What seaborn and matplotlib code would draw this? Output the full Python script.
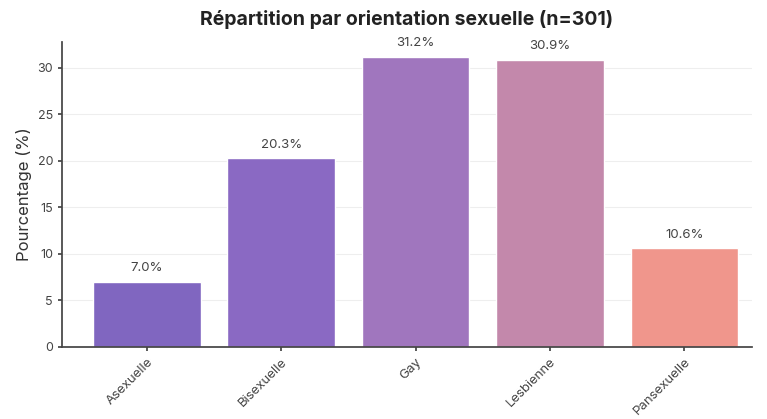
import matplotlib
matplotlib.use("Agg")
import matplotlib.pyplot as plt
import seaborn as sns
import pandas as pd

# Data
categories = ["Asexuelle", "Bisexuelle", "Gay", "Lesbienne", "Pansexuelle"]
percentages = [7.0, 20.3, 31.2, 30.9, 10.6]
bar_colors = ["#8066c0", "#8a69c3", "#a076be", "#c388ab", "#f0968c"]

sns.set_theme(style="white")
plt.rcParams['font.family'] = ['Inter', 'DejaVu Sans']

df = pd.DataFrame({"orientation": categories, "pct": percentages})

fig, ax = plt.subplots(figsize=(7.67, 4.19), dpi=100)
sns.barplot(data=df, x="orientation", y="pct", hue="orientation",
            palette=bar_colors, legend=False, width=0.8, ax=ax, saturation=1)

for i, v in enumerate(percentages):
    ax.text(i, v + 0.8, f"{v:.1f}%", ha="center", va="bottom",
            fontsize=9.5, color="#444444")

ax.set_title("Répartition par orientation sexuelle (n=301)",
             fontsize=14, fontweight="bold", color="#222222", pad=12)
ax.set_xlabel("")
ax.set_ylabel("Pourcentage (%)", fontsize=12, color="#333333")
ax.set_ylim(0, 32.8)
ax.set_xlim(-0.63, 4.5)
ax.set_yticks([0, 5, 10, 15, 20, 25, 30])
ax.yaxis.grid(True, color="#eeeeee", linewidth=0.8)
ax.set_axisbelow(True)
ax.tick_params(axis="y", colors="#444444", labelsize=9, length=3, left=True)
ax.tick_params(axis="x", colors="#444444", labelsize=9.5, length=3, bottom=True)
plt.setp(ax.get_xticklabels(), rotation=45, ha="right", rotation_mode="anchor")
sns.despine(ax=ax)
for s in ["left", "bottom"]:
    ax.spines[s].set_color("#444444")

fig.subplots_adjust(left=0.081, right=0.98, top=0.9, bottom=0.172)
fig.savefig("out.png", dpi=100)
